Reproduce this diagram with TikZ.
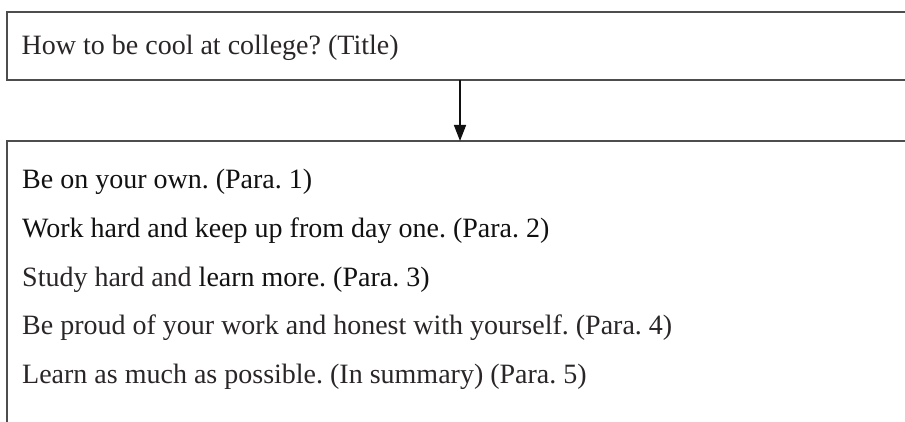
\documentclass[tikz,border=0pt]{standalone}
\usepackage{fontspec}
\setmainfont{Liberation Serif}
\usetikzlibrary{arrows.meta}
\definecolor{linegray}{HTML}{4D4D4D}
\definecolor{ink}{HTML}{2A2627}
\definecolor{darkink}{HTML}{111111}
\begin{document}
\frenchspacing
\begin{tikzpicture}[x=1pt,y=-1pt,
  frame/.style={draw=linegray, line width=2pt, rectangle, inner sep=0pt, outer sep=0pt},
  txt/.style={font=\fontsize{28}{34}\selectfont, text=ink, inner sep=0pt, anchor=base west},
  conn/.style={draw=darkink, line width=1.5pt, -{Triangle[width=12pt,length=16pt]}}]
\useasboundingbox (0,0) rectangle (905,422);
\clip (0,0) rectangle (905,422);
\node[frame, anchor=north west, minimum width=960pt, minimum height=67.5pt] (tbox) at (6.5,12.5) {};
\node[txt] (title) at (21.5,54.5) {How to be cool at college? (Title)};
\node[frame, anchor=north west, minimum width=960pt, minimum height=400pt] (bbox) at (7,141) {};
\node[txt, text=darkink] (l1) at (22,189) {Be on your own. (Para. 1)};
\node[txt, text=darkink] (l2) at (22,237.5) {Work hard and keep up from day one. (Para. 2)};
\node[txt] (l3) at (22,286) {Study hard and \textcolor{darkink}{learn more. (Para. 3)}};
\node[txt] (l4) at (22,334.5) {Be proud of your work and honest with yourself. (Para. 4)};
\node[txt] (l5) at (22,383) {Learn as much as possible. (In summary) (Para. 5)};
\coordinate (ax) at (460,0);
\draw[conn] (ax |- tbox.south) -- (ax |- bbox.north);
\end{tikzpicture}
\end{document}
